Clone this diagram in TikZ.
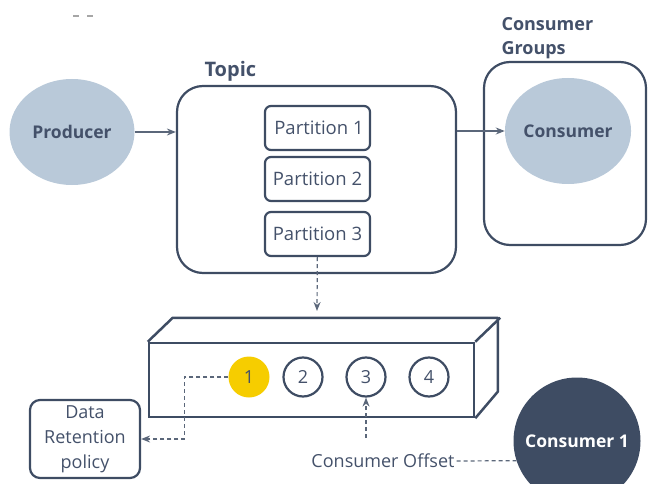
\documentclass[tikz,border=0pt]{standalone}
\usepackage{fontspec}
\setmainfont{Open Sans}
\usetikzlibrary{arrows.meta,shapes.geometric}
\definecolor{navy}{HTML}{3E4C63}
\definecolor{paleblue}{HTML}{B9C9D9}
\definecolor{gold}{HTML}{F6CD00}
\definecolor{ink}{HTML}{44516A}

\begin{document}
\begin{tikzpicture}[x=1pt,y=-1pt,color=navy,text=ink]
		\useasboundingbox (0,0) rectangle (648,484);
		
		% stray marks at the top
		\draw [gray!70,line width=1.5pt] (73,16) -- (79,16) (87,16) -- (93,16);
		
		\begin{scope}[every node/.style={ellipse,fill=paleblue,font=\bfseries\fontsize{17.5}{20}\selectfont,minimum width=125pt, minimum height=106pt,inner sep=0pt}]
			\node (PR) at (72,132) {Producer};
			\node (CO) at (568,131) {Consumer};
		\end{scope}
		
		\node [draw,line width=2.2pt,rounded corners=26pt,minimum width=279pt,minimum height=187pt] (TP) at (316.5,179.5) {};
		\node [draw,line width=2.2pt,rounded corners=26pt,minimum width=162pt,minimum height=183pt] (CG) at (565,153.5) {};
		\node [anchor=west,font=\bfseries\fontsize{20}{22}\selectfont] (TL) at (201,71) {Topic};
		\node [anchor=west,align=left,font=\bfseries\fontsize{18}{24}\selectfont] (CL) at (498,38) {Consumer\\Groups};
		
		\begin{scope}[every node/.style={rectangle,draw,line width=2.2pt,rounded corners=6pt,minimum width=105pt, minimum height=44pt,font=\fontsize{18.5}{20}\selectfont}]
			\node (P1) at (317.5,128) {\hspace{3pt}Partition 1};
			\node (P2) at (317.5,179) {Partition 2};
			\node (P3) at (317.5,234) {Partition 3};
		\end{scope}
		
		% the log
		\node [draw,line width=2.5pt,minimum width=325pt,minimum height=74pt] (LG) at (311.5,380) {};
		\draw [line width=2.5pt,line join=round] (LG.north west) -- ++(25,-24) -- ++(325,0) -- ++(0,74) -- (LG.south east);
		\draw [line width=2.5pt] (LG.north east) -- ++(25,-24);
		
		\node [circle,fill=gold,minimum size=41pt,inner sep=0pt,font=\fontsize{18}{20}\selectfont] (O1) at (249,377) {1};
		\foreach \i/\x in {2/303,3/366,4/429}
			\node [circle,draw,line width=2.2pt,minimum size=39pt,inner sep=0pt,font=\fontsize{18}{20}\selectfont] (O\i) at (\x,377) {\i};
		
		\node [draw,line width=2.2pt,rounded corners=10pt,minimum width=110pt,minimum height=78pt,align=center,font=\fontsize{18}{25}\selectfont] (DR) at (85,439) {Data\\Retention\\policy};
		\node [circle,fill=navy,text=white,minimum size=127pt,inner sep=0pt,font=\bfseries\fontsize{17.5}{20}\selectfont] (CS) at (577,441) {Consumer 1};
		\node [font=\fontsize{18}{20}\selectfont,inner sep=2pt] (OF) at (383,461) {Consumer Offset};
		
		\coordinate (LT) at (317,311);
		\coordinate (OT) at (366,438);
		
		\tikzstyle{arrow} = [line width=1.3pt,->,>={Stealth[length=9pt,width=7pt]},color=navy!85]
		\draw [arrow] (PR.east) -- (PR.east -| TP.west);
		\draw [arrow] (TP.east |- CO) -- (CO);
		
		\tikzstyle{arrow} = [line width=1.2pt,dash pattern=on 4pt off 3pt,->,>={Stealth[length=9pt,width=7pt]},color=navy!85]
		\draw [arrow] (P3) -- (LT);
		\draw [arrow] (O1.west) -- ++(-44,0) |- (DR.east);
		\draw [arrow] (OT) -- (O3.south);
		\draw [line width=1.2pt,dash pattern=on 4pt off 3pt,color=navy!85] (OF.east) -- (CS.198);
		
	\end{tikzpicture}
\end{document}
